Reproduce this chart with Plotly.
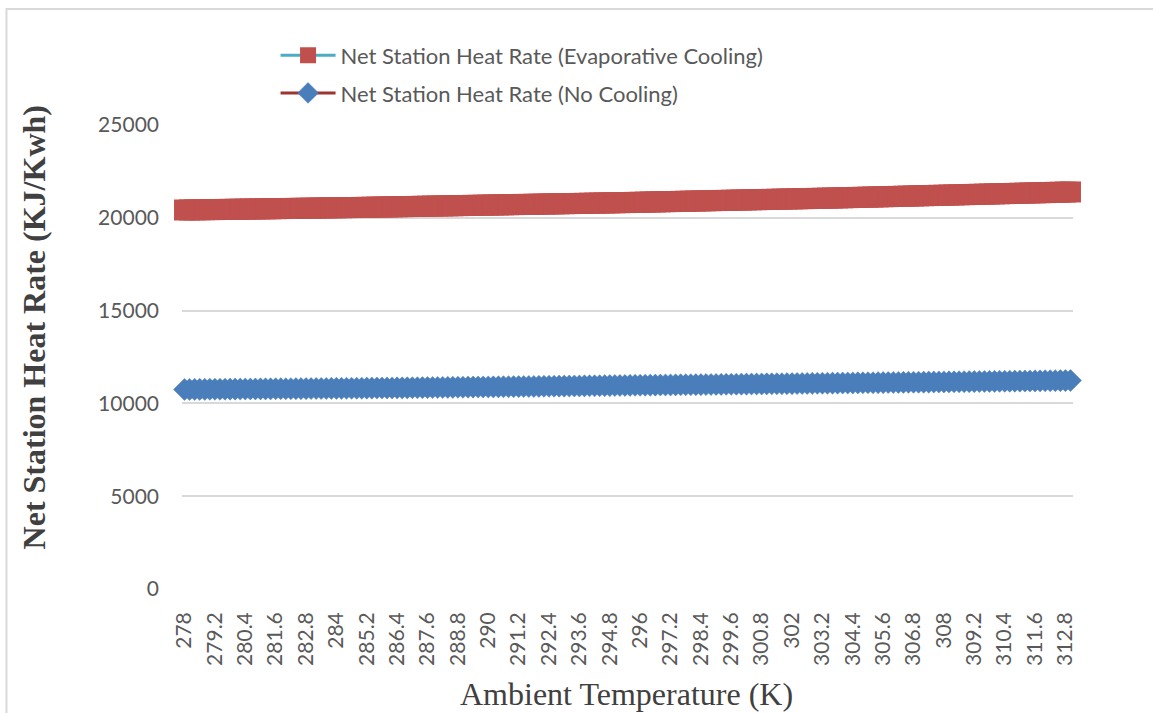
import plotly.graph_objects as go

# Ambient temperature steps (K), 278.0 .. 313.0 every 0.2 K
temperature = [round(278 + 0.2 * i, 1) for i in range(176)]

# Net station heat rate, evaporative inlet cooling (KJ/Kwh)
heat_rate_evap = [
    20420, 20424, 20428, 20432, 20436, 20440, 20444, 20448, 20452, 20456,
    20460, 20464, 20468, 20472, 20476, 20480, 20484, 20488, 20492, 20496,
    20500, 20504, 20508, 20512, 20516, 20520, 20524, 20528, 20532, 20536,
    20540, 20544, 20548, 20552, 20556, 20560, 20565, 20570, 20575, 20580,
    20585, 20590, 20595, 20600, 20605, 20610, 20615, 20620, 20625, 20630,
    20635, 20640, 20645, 20650, 20655, 20660, 20665, 20670, 20675, 20680,
    20685, 20690, 20695, 20700, 20705, 20710, 20715, 20720, 20725, 20730,
    20735, 20740, 20745, 20750, 20755, 20760, 20765, 20770, 20775, 20780,
    20785, 20790, 20795, 20800, 20805, 20810, 20815, 20820, 20826, 20832,
    20838, 20844, 20850, 20856, 20862, 20868, 20874, 20880, 20886, 20892,
    20898, 20904, 20910, 20916, 20922, 20928, 20934, 20940, 20946, 20952,
    20958, 20964, 20970, 20976, 20982, 20988, 20994, 21000, 21006, 21012,
    21018, 21024, 21030, 21036, 21042, 21048, 21054, 21060, 21066, 21072,
    21078, 21085, 21092, 21099, 21106, 21113, 21120, 21127, 21134, 21141,
    21148, 21155, 21162, 21169, 21176, 21183, 21190, 21197, 21204, 21211,
    21218, 21225, 21232, 21239, 21246, 21253, 21260, 21267, 21274, 21281,
    21288, 21295, 21302, 21309, 21316, 21323, 21330, 21337, 21344, 21351,
    21358, 21365, 21372, 21379, 21386, 21393,
]

# Net station heat rate, no inlet cooling (KJ/Kwh)
heat_rate_none = [
    10750, 10752, 10754, 10756, 10758, 10760, 10762, 10764, 10766, 10768,
    10770, 10772, 10774, 10776, 10778, 10780, 10782, 10784, 10786, 10788,
    10790, 10792, 10794, 10796, 10798, 10800, 10802, 10804, 10806, 10808,
    10810, 10812, 10814, 10816, 10818, 10820, 10822, 10824, 10826, 10828,
    10830, 10832, 10834, 10836, 10839, 10842, 10845, 10848, 10851, 10854,
    10857, 10860, 10863, 10866, 10869, 10872, 10875, 10878, 10881, 10884,
    10887, 10890, 10893, 10896, 10899, 10902, 10905, 10908, 10911, 10914,
    10917, 10920, 10923, 10926, 10929, 10932, 10935, 10938, 10941, 10944,
    10947, 10950, 10953, 10956, 10959, 10962, 10965, 10968, 10971, 10974,
    10977, 10980, 10983, 10986, 10989, 10992, 10995, 10998, 11001, 11004,
    11007, 11010, 11013, 11016, 11019, 11022, 11025, 11028, 11031, 11034,
    11037, 11040, 11043, 11046, 11049, 11052, 11055, 11058, 11061, 11064,
    11067, 11070, 11073, 11076, 11079, 11082, 11085, 11088, 11091, 11094,
    11097, 11100, 11103, 11106, 11109, 11112, 11115, 11118, 11121, 11124,
    11127, 11130, 11133, 11136, 11139, 11142, 11145, 11148, 11151, 11154,
    11157, 11160, 11163, 11166, 11169, 11172, 11175, 11178, 11181, 11184,
    11187, 11190, 11193, 11196, 11199, 11202, 11205, 11208, 11211, 11214,
    11217, 11220, 11223, 11226, 11229, 11232,
]

# Labelled temperatures on the category axis (every sixth step)
x_tick_labels = [
    "278", "279.2", "280.4", "281.6", "282.8", "284", "285.2", "286.4",
    "287.6", "288.8", "290", "291.2", "292.4", "293.6", "294.8", "296",
    "297.2", "298.4", "299.6", "300.8", "302", "303.2", "304.4", "305.6",
    "306.8", "308", "309.2", "310.4", "311.6", "312.8",
]
y_tick_values = [0, 5000, 10000, 15000, 20000, 25000]

TICK_FONT = dict(family="Lato", size=21, color="#595959")
GRID = "#d9d9d9"

fig = go.Figure()
fig.add_trace(go.Scatter(
    x=temperature, y=heat_rate_evap, mode="lines+markers",
    name="Net Station Heat Rate (Evaporative Cooling)",
    legendgroup="evap", cliponaxis=False,
    line=dict(color="#4BACC6", width=3),
    marker=dict(symbol="square", size=21, color="#C0504D",
                line=dict(color="#C0504D", width=0)),
))
fig.add_trace(go.Scatter(
    x=temperature, y=heat_rate_none, mode="lines+markers",
    name="Net Station Heat Rate (No Cooling)",
    legendgroup="none", cliponaxis=False,
    line=dict(color="#9E3330", width=3),
    marker=dict(symbol="diamond", size=17, color="#4A7EBB",
                line=dict(color="#4A7EBB", width=0.5)),
))

fig.update_layout(
    width=1153, height=713,
    margin=dict(l=182, r=80, t=125, b=124),
    paper_bgcolor="white", plot_bgcolor="white",
    showlegend=True,
    legend=dict(
        x=0.105, y=1.195, xanchor="left", yanchor="top",
        font=dict(family="Lato", size=22, color="#595959"),
        bgcolor="rgba(0,0,0,0)", traceorder="grouped",
        tracegroupgap=6, itemwidth=55,
    ),
    xaxis=dict(
        range=[277.9, 313.1],
        tickmode="array",
        tickvals=[float(t) for t in x_tick_labels],
        ticktext=x_tick_labels,
        tickangle=-90,
        tickfont=TICK_FONT,
        ticklabelstandoff=18,
        showgrid=False, zeroline=False,
        showline=False, ticks="",
    ),
    yaxis=dict(
        range=[0, 25000],
        tickmode="array",
        tickvals=y_tick_values,
        ticktext=[str(v) for v in y_tick_values],
        tickfont=TICK_FONT,
        ticklabelstandoff=22,
        showgrid=True, gridcolor=GRID, gridwidth=1.5,
        zeroline=False, showline=False, ticks="",
    ),
    annotations=[
        dict(text="<b>Net Station Heat Rate (KJ/Kwh)</b>",
             xref="paper", yref="paper", x=-0.1656, y=0.5647,
             xanchor="center", yanchor="middle", textangle=-90,
             showarrow=False,
             font=dict(family="Liberation Serif", size=32, color="#404040")),
        dict(text="Ambient Temperature (K)",
             xref="paper", yref="paper", x=0.4992, y=-0.2260,
             xanchor="center", yanchor="middle", showarrow=False,
             font=dict(family="Liberation Serif", size=32, color="#404040")),
    ],
    shapes=[
        dict(type="rect", xref="paper", yref="paper",
             x0=-0.197, x1=1.12, y0=-0.30, y1=1.25,
             line=dict(color=GRID, width=2), fillcolor="rgba(0,0,0,0)",
             layer="below"),
    ],
)

fig.write_html("out.html")
